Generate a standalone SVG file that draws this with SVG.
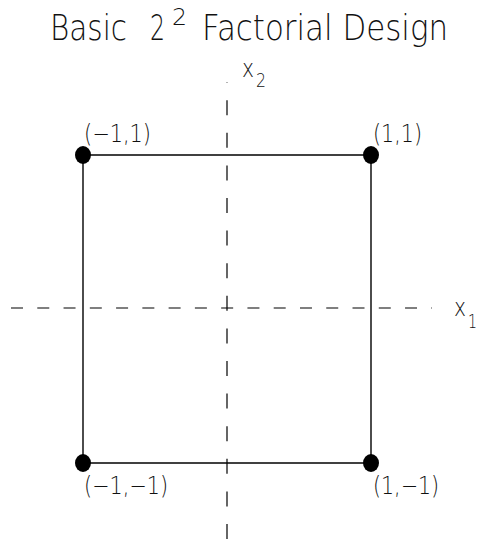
<svg xmlns="http://www.w3.org/2000/svg" width="481" height="542" viewBox="0 0 481 542">
<style>
text{font-family:"DejaVu Sans","Liberation Sans",sans-serif;font-weight:200;fill:#111}
.t{font-size:35px}
.lbl{font-size:24px}
.ax{stroke:#000;stroke-width:1.2;fill:none}
.edge{stroke:#000;stroke-width:1.4;fill:none}
.dot{fill:#000}
</style>
<rect width="481" height="542" fill="#fff"/>
<g id="title">
<text class="t" x="50" y="40" textLength="77" lengthAdjust="spacingAndGlyphs">Basic</text>
<text class="t" x="150" y="40" textLength="15" lengthAdjust="spacingAndGlyphs">2</text>
<text x="172" y="25" style="font-size:23px" textLength="15" lengthAdjust="spacingAndGlyphs">2</text>
<text class="t" x="202" y="40" textLength="246" lengthAdjust="spacingAndGlyphs">Factorial Design</text>
</g>
<g id="axes">
<line class="ax" x1="11" y1="308" x2="432" y2="308" stroke-dasharray="12 14.27"/>
<line class="ax" x1="227" y1="82" x2="227" y2="540" stroke-dasharray="15 17.6" stroke-dashoffset="14.4"/>
</g>
<g id="axis-labels">
<g id="x1-label"><text class="lbl" x="454" y="316" textLength="12" lengthAdjust="spacingAndGlyphs">x</text><text x="468" y="328" style="font-size:20px" textLength="9" lengthAdjust="spacingAndGlyphs">1</text></g>
<g id="x2-label"><text class="lbl" x="242" y="77" textLength="12" lengthAdjust="spacingAndGlyphs">x</text><text x="256" y="87" style="font-size:20px" textLength="10" lengthAdjust="spacingAndGlyphs">2</text></g>
</g>
<g id="connectors">
<line class="edge" x1="83" y1="155" x2="371" y2="155"/>
<line class="edge" x1="83" y1="463" x2="371" y2="463"/>
<line class="edge" x1="83" y1="155" x2="83" y2="463"/>
<line class="edge" x1="371" y1="155" x2="371" y2="463"/>
</g>
<g id="p-m1-p1"><ellipse class="dot" cx="83" cy="155" rx="8" ry="9"/><text class="lbl" x="84" y="142" textLength="67" lengthAdjust="spacingAndGlyphs">(−1,1)</text></g>
<g id="p-p1-p1"><ellipse class="dot" cx="371" cy="155" rx="8" ry="9"/><text class="lbl" x="373" y="142" textLength="49" lengthAdjust="spacingAndGlyphs">(1,1)</text></g>
<g id="p-m1-m1"><ellipse class="dot" cx="83" cy="463" rx="8" ry="9"/><text class="lbl" x="84" y="494" textLength="84" lengthAdjust="spacingAndGlyphs">(−1,−1)</text></g>
<g id="p-p1-m1"><ellipse class="dot" cx="371" cy="463" rx="8" ry="9"/><text class="lbl" x="373" y="494" textLength="66" lengthAdjust="spacingAndGlyphs">(1,−1)</text></g>
</svg>
